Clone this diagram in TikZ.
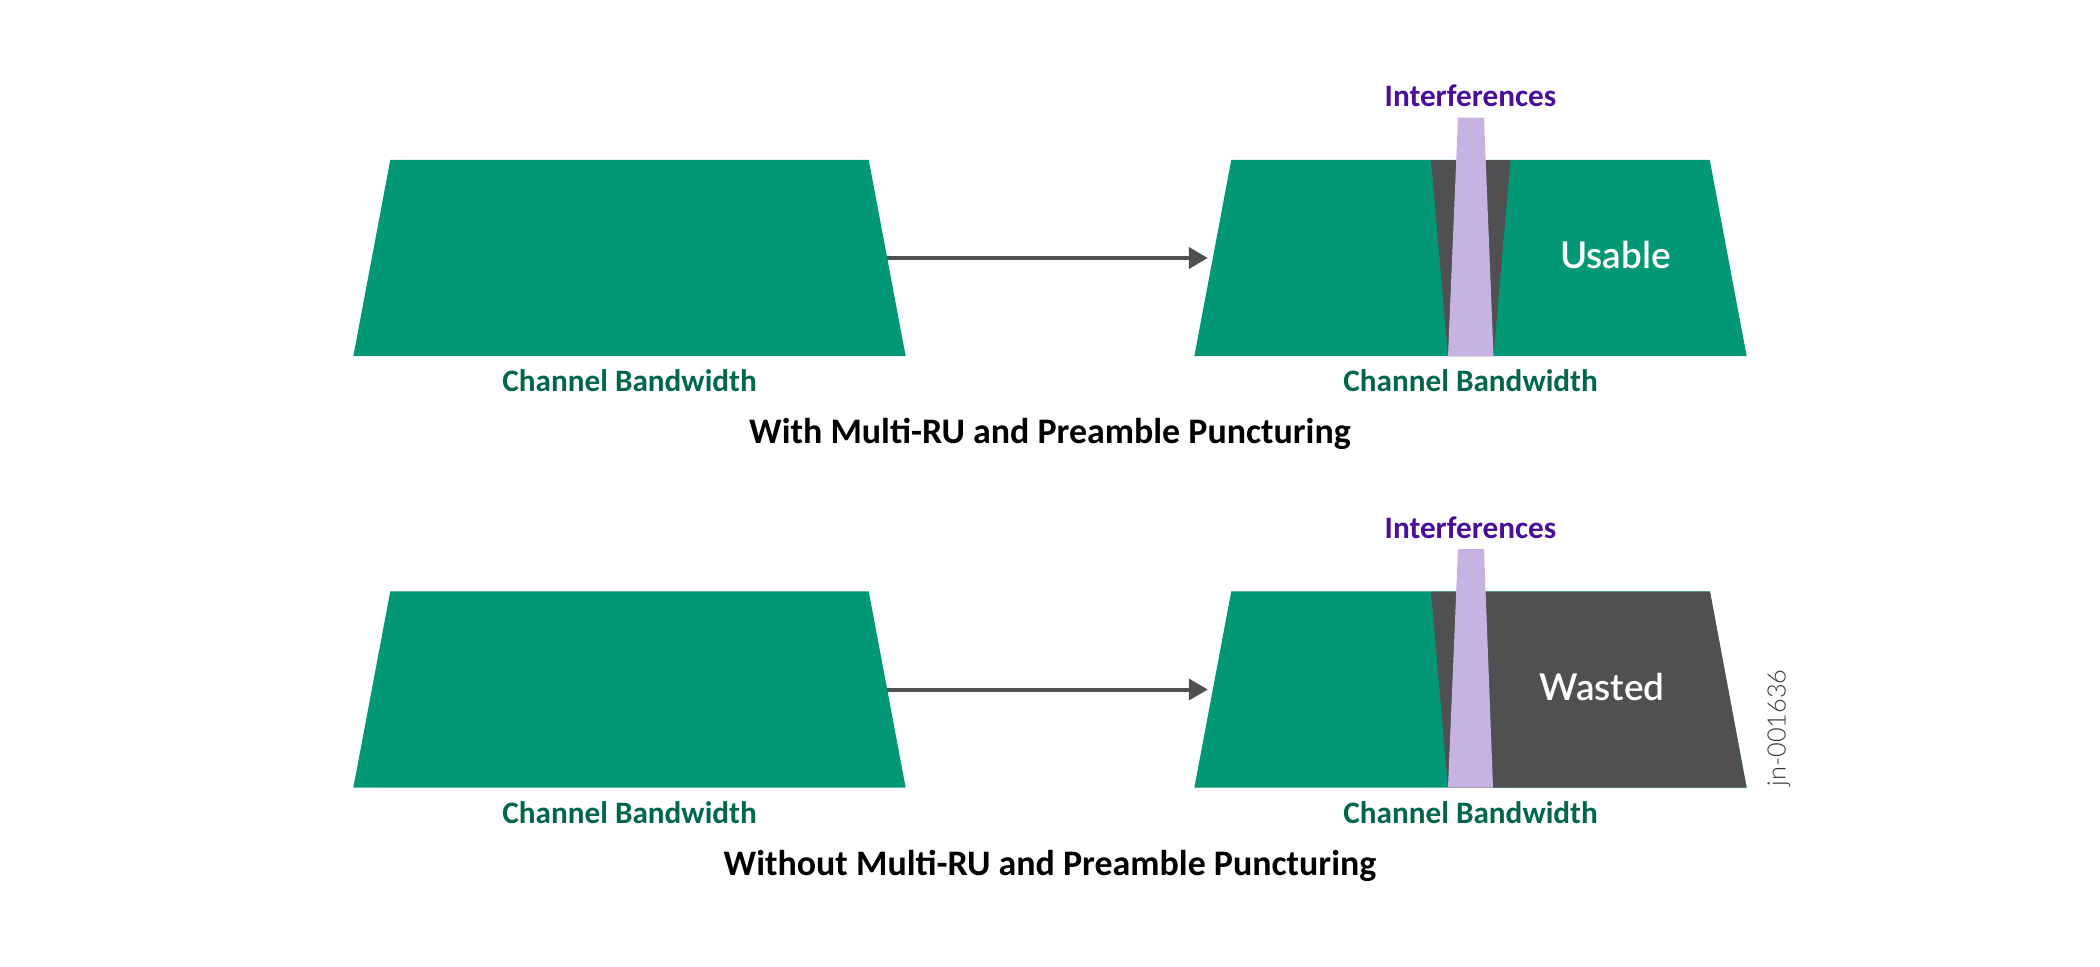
\documentclass[tikz,border=0pt]{standalone}
\usepackage{fontspec}
\setmainfont{Carlito}
\newfontfamily\idfont{Lato Light}
\newfontfamily\inlabelfont{Lato Semibold}
\usetikzlibrary{arrows.meta,shapes.geometric}
\definecolor{bandgreen}{HTML}{039875}
\definecolor{labelgreen}{HTML}{00674A}
\definecolor{wastegray}{HTML}{505050}
\definecolor{jampurple}{HTML}{4A0E9C}
\definecolor{jamlilac}{HTML}{C5B3E3}
\definecolor{idgray}{HTML}{383838}
\begin{document}
\begin{tikzpicture}
[
    x=0.01cm, y=-0.01cm,
    band/.style={trapezium, trapezium left angle=86, trapezium right angle=86, trapezium stretches=true,
        fill=bandgreen, inner sep=0pt, outer sep=0pt, minimum width=5.52cm, minimum height=1.96cm},
    flow/.style={draw=wastegray, line width=0.04cm, shorten >=0.05cm, -{Triangle[length=0.19cm, width=0.21cm]}},
    bandlabel/.style={text=labelgreen, font=\bfseries\fontsize{8.88}{10}\selectfont},
    jamlabel/.style={text=jampurple, font=\bfseries\fontsize{8.88}{10}\selectfont},
    rowtitle/.style={text=black, font=\bfseries\fontsize{10.22}{12}\selectfont},
    inlabel/.style={text=white, font=\inlabelfont\fontsize{10.5}{13}\selectfont},
]
\useasboundingbox (0,0) rectangle (2100,966);

% upper row
\node [band] (bandA) at (629.5,258) {\phantom{x}};
\node [band] (bandB) at (1470.5,258) {\phantom{x}};
\draw [flow] (bandA.east) -- (bandB.west);
\fill [wastegray] (1431,160) -- (1510.5,160) -- (1493.5,356) -- (1448,356) -- cycle;
\fill [jamlilac] (1458,117.5) -- (1484,117.5) -- (1493.5,356) -- (1448,356) -- cycle;
\node [inlabel] (usable) at (1615.5,255) {Usable};
\node [jamlabel] (jamA) at (1470.5,96) {Interferences};
\node [bandlabel] (labelA) at (629.5,381) {Channel Bandwidth};
\node [bandlabel] (labelB) at (1470.5,381) {Channel Bandwidth};
\node [rowtitle] (titleA) at (1050,434) {With Multi-RU and Preamble Puncturing};

% lower row
\node [band] (bandC) at (629.5,689.5) {\phantom{x}};
\node [band] (bandD) at (1470.5,689.5) {\phantom{x}};
\draw [flow] (bandC.east) -- (bandD.west);
\fill [wastegray] (1431,591.5) -- (1710,591.5) -- (1746.5,787.5) -- (1448,787.5) -- cycle;
\fill [jamlilac] (1458,549) -- (1484,549) -- (1493,787.5) -- (1448,787.5) -- cycle;
\node [inlabel] (wasted) at (1602,687) {Wasted};
\node [jamlabel] (jamB) at (1470.5,528) {Interferences};
\node [bandlabel] (labelC) at (629.5,813) {Channel Bandwidth};
\node [bandlabel] (labelD) at (1470.5,813) {Channel Bandwidth};
\node [rowtitle] (titleB) at (1050,866) {Without Multi-RU and Preamble Puncturing};

\node [rotate=90, text=idgray, font=\idfont\fontsize{7.2}{9}\selectfont] (figid) at (1779,728) {jn-001636};
\end{tikzpicture}
\end{document}
